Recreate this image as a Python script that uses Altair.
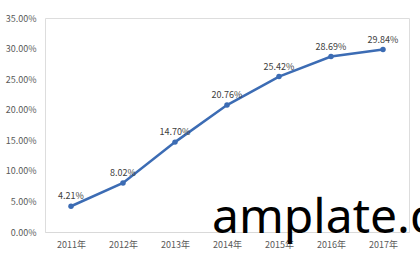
import altair as alt
import pandas as pd

years = ["2011年", "2012年", "2013年", "2014年", "2015年", "2016年", "2017年"]
values = [0.0421, 0.0802, 0.1470, 0.2076, 0.2542, 0.2869, 0.2984]
labels = ["4.21%", "8.02%", "14.70%", "20.76%", "25.42%", "28.69%", "29.84%"]
watermark = ["amplate.c"]

df = pd.DataFrame({"year": years, "value": values, "label": labels})

FONT = "Noto Sans CJK SC"

x = alt.X("year:N", sort=years, title=None,
          scale=alt.Scale(type="point", padding=0.5),
          axis=alt.Axis(labelAngle=0, ticks=False, domainColor="#d9d9d9",
                        labelColor="#595959", labelFont=FONT, labelFontSize=9,
                        labelPadding=8))
y = alt.Y("value:Q", title=None,
          scale=alt.Scale(domain=[0, 0.35]),
          axis=alt.Axis(format=".2%", values=[0, 0.05, 0.1, 0.15, 0.2, 0.25, 0.3, 0.35],
                        grid=False, domain=False, ticks=False, labelColor="#595959",
                        labelFont=FONT, labelFontSize=9, labelPadding=9))

base = alt.Chart(df)
line = base.mark_line(color="#3C6CB4", strokeWidth=2.5).encode(x=x, y=y)
pts = base.mark_point(filled=True, size=30, color="#3C6CB4", opacity=1).encode(x=x, y=y)
txt = base.mark_text(baseline="bottom", dy=-5, fontSize=9, font=FONT, color="#404040").encode(
    x=x, y=y, text="label:N")

wm = alt.Chart(pd.DataFrame({"t": watermark})).mark_text(
    align="left", baseline="alphabetic", fontSize=48, font="Noto Sans", color="#000000"
).encode(x=alt.value(167), y=alt.value(215), text="t:N")

chart = alt.layer(line, pts, txt, wm).properties(
    width=364, height=214,
    padding={"left": 45, "top": 18, "right": 11, "bottom": 32},
    autosize=alt.AutoSizeParams(type="none"),
).configure_view(stroke=None).configure(background="white")

chart.save("out.html", embed_options={"renderer": "svg", "actions": False})
